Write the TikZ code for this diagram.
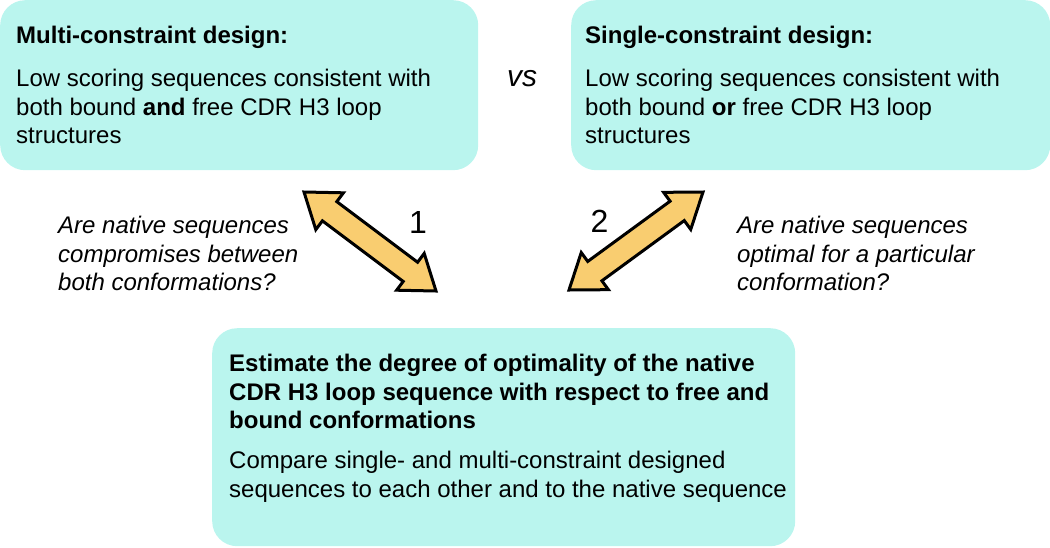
\documentclass[tikz,border=0pt]{standalone}
\usepackage{fontspec}
\setmainfont{Liberation Sans}
\usetikzlibrary{calc}

\definecolor{panelcyan}{RGB}{186,245,238}
\definecolor{arrowgold}{RGB}{249,205,112}

\tikzset{
  panel/.style={fill=panelcyan, rounded corners=25pt, inner sep=0pt, anchor=north west},
  paneltext/.style={anchor=north west, inner sep=0pt, align=left, font=\fontsize{24}{28.5}\selectfont},
  question/.style={anchor=north west, inner sep=0pt, align=left, font=\fontsize{24}{28.5}\selectfont\itshape},
  fatarrow/.style={fill=arrowgold, draw=black, line width=3pt, line join=miter},
}

\begin{document}
\begin{tikzpicture}[x=1pt,y=-1pt]
    \useasboundingbox (0,0) rectangle (1050,547);

    % the three boxes
    \node[panel, minimum width=478pt, minimum height=170pt] (multi) at (0,0) {};
    \node[panel, minimum width=479pt, minimum height=170pt] (single) at (571,0) {};
    \node[panel, minimum width=583pt, minimum height=218pt] (estimate) at (212,328) {};

    \node[paneltext] (multitext) at ([shift={(16,26)}]multi.north west)
      {\textbf{Multi-constraint design:}\\[14.5pt]
       Low scoring sequences consistent with\\
       both bound \textbf{and} free CDR H3 loop\\
       structures};
    \node[paneltext] (singletext) at ([shift={(14,26)}]single.north west)
      {\textbf{Single-constraint design:}\\[14.5pt]
       Low scoring sequences consistent with\\
       both bound \textbf{or} free CDR H3 loop\\
       structures};
    \node[paneltext] (estimatetext) at ([shift={(17,26)}]estimate.north west)
      {\textbf{Estimate the degree of optimality of the native}\\
       \textbf{CDR H3 loop sequence with respect to free and}\\
       \textbf{bound conformations}\\[11.5pt]
       Compare single- and multi-constraint designed\\
       sequences to each other and to the native sequence};

    \node[anchor=base west, inner sep=0pt, font=\fontsize{30}{34}\selectfont\itshape] (vs) at (507,86) {vs};

    % questions
    \node[question] (q1) at (58,216)
      {Are native sequences\\ compromises between\\ both conformations?};
    \node[question] (q2) at (737,216)
      {Are native sequences\\ optimal for a particular\\ conformation?};

    % double arrows
    \coordinate (a1top) at (304,192);
    \coordinate (a1bot) at (436,291);
    \coordinate (a2bot) at (569,290);
    \coordinate (a2top) at (703,192);
    \foreach \from/\to in {a1top/a1bot, a2bot/a2top}{
      \coordinate (h1) at ($(\from)!32pt!(\to)$);
      \coordinate (h2) at ($(\to)!32pt!(\from)$);
      \draw[fatarrow] (\from) -- ($(h1)!23pt!90:(\to)$) -- ($(h1)!12pt!90:(\to)$)
        -- ($(h2)!12pt!-90:(\from)$) -- ($(h2)!23pt!-90:(\from)$) -- (\to)
        -- ($(h2)!23pt!90:(\from)$) -- ($(h2)!12pt!90:(\from)$)
        -- ($(h1)!12pt!-90:(\to)$) -- ($(h1)!23pt!-90:(\to)$) -- cycle;
    }

    \node[anchor=base, inner sep=0pt, font=\fontsize{32}{36}\selectfont] (one) at (418,233) {1};
    \node[anchor=base, inner sep=0pt, font=\fontsize{32}{36}\selectfont] (two) at (599.5,232) {2};
\end{tikzpicture}
\end{document}
